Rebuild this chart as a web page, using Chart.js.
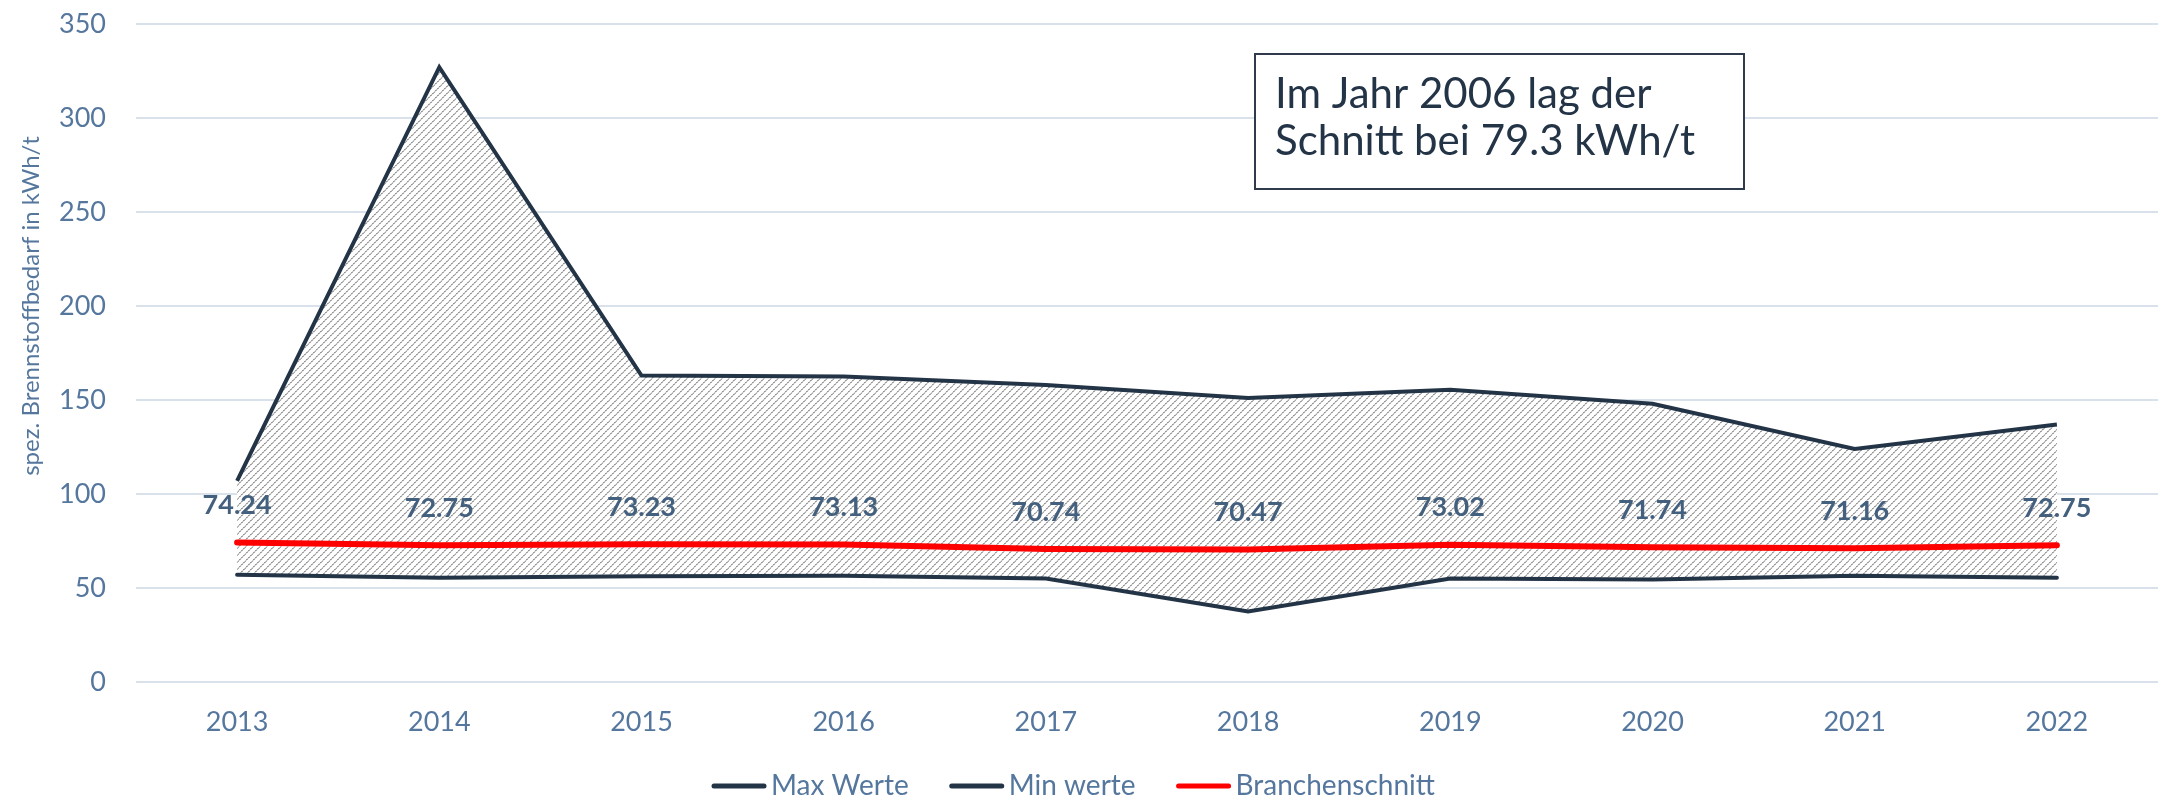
<!DOCTYPE html>
<html lang="de">
<head>
<meta charset="utf-8">
<title>Spez. Brennstoffbedarf</title>
<script src="https://cdn.jsdelivr.net/npm/chart.js@4/dist/chart.umd.min.js"></script>
<style>
  html, body { margin: 0; padding: 0; background: #fff; }
  #chart { display: block; }
</style>
</head>
<body>
<canvas id="chart" width="2158" height="800"></canvas>
<script>
  // Werte
  const years = ['2013', '2014', '2015', '2016', '2017', '2018', '2019', '2020', '2021', '2022'];
  const maxWerte = [107, 327, 163, 162.5, 158, 151, 155.5, 148, 124, 137];
  const minWerte = [57, 55.5, 56.3, 56.5, 55, 37.5, 55, 54.5, 56.5, 55.5];
  const branchenschnitt = [74.24, 72.75, 73.23, 73.13, 70.74, 70.47, 73.02, 71.74, 71.16, 72.75];
  const yTicks = [0, 50, 100, 150, 200, 250, 300, 350];
  const yTitle = 'spez. Brennstoffbedarf in kWh/t';
  const noteLines = ['Im Jahr 2006 lag der', 'Schnitt bei 79.3 kWh/t'];

  const FONT = 'Lato, "Open Sans", sans-serif';
  const TICK_COLOR = '#55779E';
  const LABEL_COLOR = '#44607F';
  const DARK = '#243447';

  // grey diagonal hatch on white, like the Excel pattern fill
  function makeHatch() {
    const s = 7;
    const c = document.createElement('canvas');
    c.width = s; c.height = s;
    const g = c.getContext('2d');
    const img = g.createImageData(s, s);
    for (let y = 0; y < s; y++) {
      for (let x = 0; x < s; x++) {
        const d = (x + y) % s;
        let v = 255;
        if (d === 0) v = x % 2 ? 150 : 200;
        else if (d === 1) v = x % 2 ? 215 : 170;
        const i = (y * s + x) * 4;
        img.data[i] = img.data[i + 1] = img.data[i + 2] = v;
        img.data[i + 3] = 255;
      }
    }
    g.putImageData(img, 0, 0);
    return g.createPattern(c, 'repeat');
  }

  const valueLabels = {
    id: 'valueLabels',
    afterDatasetsDraw(chart) {
      const meta = chart.getDatasetMeta(2);
      const ctx = chart.ctx;
      ctx.save();
      ctx.font = 'bold 27px ' + FONT;
      ctx.fillStyle = LABEL_COLOR;
      ctx.textAlign = 'center';
      ctx.textBaseline = 'middle';
      meta.data.forEach((pt, i) => {
        ctx.fillText(branchenschnitt[i].toFixed(2), pt.x, pt.y - 37);
      });
      ctx.restore();
    }
  };

  const extras = {
    id: 'extras',
    afterDraw(chart) {
      const ctx = chart.ctx;
      ctx.save();

      // y axis title
      ctx.translate(31, 306);
      ctx.rotate(-Math.PI / 2);
      ctx.font = '24px ' + FONT;
      ctx.fillStyle = TICK_COLOR;
      ctx.textAlign = 'center';
      ctx.textBaseline = 'middle';
      ctx.fillText(yTitle, 0, 0);
      ctx.setTransform(1, 0, 0, 1, 0, 0);

      // note box
      ctx.fillStyle = '#fff';
      ctx.fillRect(1255, 54, 489, 135);
      ctx.strokeStyle = '#2F3B4A';
      ctx.lineWidth = 2;
      ctx.strokeRect(1255, 54, 489, 135);
      ctx.fillStyle = DARK;
      ctx.font = '42px ' + FONT;
      ctx.textAlign = 'left';
      ctx.textBaseline = 'alphabetic';
      ctx.fillText(noteLines[0], 1275, 108);
      ctx.fillText(noteLines[1], 1275, 155);

      // legend
      ctx.font = '28px ' + FONT;
      ctx.textBaseline = 'middle';
      let x = 712;
      const y = 786;
      chart.data.datasets.forEach(ds => {
        ctx.strokeStyle = ds.borderColor;
        ctx.lineWidth = 5;
        ctx.lineCap = 'round';
        ctx.beginPath();
        ctx.moveTo(x + 2, y);
        ctx.lineTo(x + 52, y);
        ctx.stroke();
        ctx.fillStyle = TICK_COLOR;
        ctx.fillText(ds.label, x + 59, y);
        x += 59 + ctx.measureText(ds.label).width + 41;
      });
      ctx.restore();
    }
  };

  const hatch = makeHatch();

  new Chart(document.getElementById('chart'), {
    type: 'line',
    data: {
      labels: years,
      datasets: [
        {
          label: 'Max Werte',
          data: maxWerte,
          borderColor: DARK,
          borderWidth: 4,
          pointRadius: 0,
          fill: false,
        },
        {
          label: 'Min werte',
          data: minWerte,
          borderColor: DARK,
          borderWidth: 4,
          pointRadius: 0,
          borderCapStyle: 'round',
          backgroundColor: hatch,
          fill: '-1',
        },
        {
          label: 'Branchenschnitt',
          data: branchenschnitt,
          borderColor: '#FF0000',
          borderWidth: 6,
          pointRadius: 0,
          borderCapStyle: 'round',
          fill: false,
        },
      ],
    },
    options: {
      responsive: false,
      devicePixelRatio: 1,
      animation: false,
      layout: { padding: { top: 24, right: 0, left: 0, bottom: 42 } },
      plugins: {
        legend: { display: false },
        tooltip: { enabled: false },
        filler: { drawTime: 'beforeDatasetsDraw' },
      },
      scales: {
        x: {
          offset: true,
          grid: { display: false, drawTicks: false },
          border: { display: false },
          ticks: { color: TICK_COLOR, font: { family: FONT, size: 27 }, padding: 24, maxRotation: 0 },
          afterFit(scale) { scale.height = 76; },
        },
        y: {
          min: 0,
          max: 350,
          // invisible tick marks give the gap between labels and plot
          grid: { color: '#D9E1EB', lineWidth: 2, drawTicks: true, tickLength: 30, tickColor: 'rgba(0,0,0,0)' },
          border: { display: false },
          ticks: { color: TICK_COLOR, font: { family: FONT, size: 27 }, padding: 0, stepSize: 50 },
          afterBuildTicks(scale) { scale.ticks = yTicks.map(v => ({ value: v })); },
          afterFit(scale) { scale.width = 136; },
        },
      },
    },
    plugins: [valueLabels, extras],
  });
</script>
</body>
</html>
